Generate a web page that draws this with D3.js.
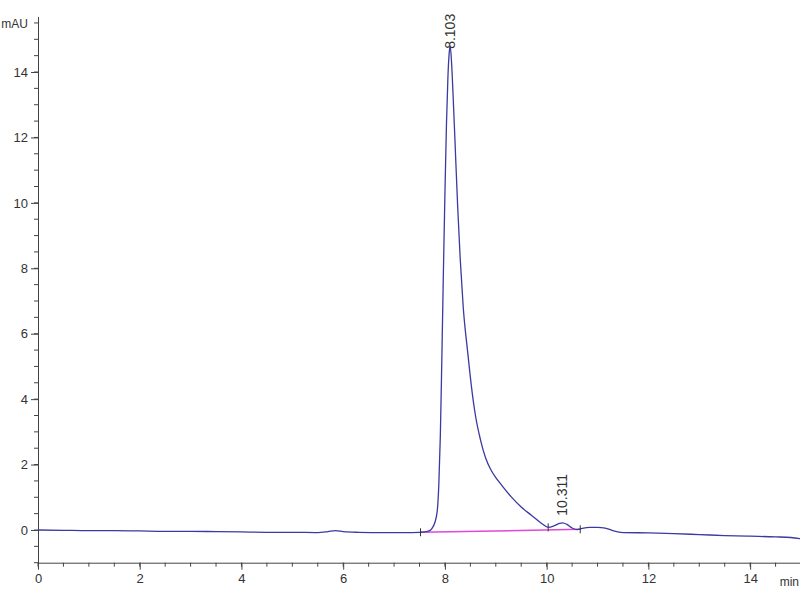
<!DOCTYPE html>
<html>
<head>
<meta charset="utf-8">
<script src="https://cdn.jsdelivr.net/npm/d3@7"></script>
<style>
  body { margin: 0; background: #fff; }
  #part { width: 800px; height: 600px; }
  text { font-family: "Liberation Sans", Arial, sans-serif; fill: #333; }
</style>
</head>
<body>
<div id="part"></div>
<script>

// chromatogram trace
var time = [0, 0.5, 1.0, 1.5, 2.0, 2.5, 3.0, 3.5, 4.0, 4.5, 5.0, 5.5, 5.7, 5.85, 6.0, 6.3, 6.8, 7.2, 7.5, 7.6,
  7.7, 7.75, 7.8, 7.85, 7.88, 7.91, 7.94, 7.97, 8.0, 8.03, 8.06, 8.085, 8.103, 8.13, 8.16, 8.2, 8.25, 8.3,
  8.36, 8.45, 8.52, 8.6, 8.7, 8.8, 8.9, 9.0, 9.1, 9.3, 9.5, 9.7, 9.9, 10.03, 10.15, 10.25, 10.311, 10.4, 10.5, 10.6,
  10.7, 10.85, 11.0, 11.15, 11.3, 11.45, 12.0, 12.5, 13.0, 13.5, 14.0, 14.5, 14.8, 15.0];
var signal = [0, -0.01, -0.02, -0.02, -0.03, -0.04, -0.04, -0.05, -0.06, -0.07, -0.07, -0.08, -0.05, -0.02, -0.05, -0.07, -0.08, -0.08, -0.07, -0.06,
  -0.02, 0.06, 0.22, 0.6, 1.4, 2.9, 5.3, 7.9, 10.3, 12.4, 13.9, 14.6, 14.8, 14.3, 13.3, 11.8, 9.9, 8.3,
  6.8, 5.4, 4.4, 3.5, 2.75, 2.2, 1.85, 1.6, 1.4, 1.02, 0.7, 0.45, 0.2, 0.08, 0.13, 0.2, 0.22, 0.17, 0.06, 0.01,
  0.05, 0.08, 0.08, 0.06, -0.02, -0.07, -0.09, -0.11, -0.14, -0.17, -0.19, -0.21, -0.23, -0.27];

// integration baseline and peak marks
var baseTime = [7.52, 10.66];
var baseValue = [-0.07, 0.02];
var markTime = [7.52, 10.03, 10.66];
var markValue = [-0.07, 0.08, 0.02];

var peakTime = [8.103, 10.311];
var peakValue = [14.8, 0.22];
var peakLabel = ["8.103", "10.311"];

var xTicks = [0, 2, 4, 6, 8, 10, 12, 14];
var yTicks = [0, 2, 4, 6, 8, 10, 12, 14];

var width = 800, height = 600;

var svg = d3.select("#part").append("svg")
    .attr("width", width)
    .attr("height", height);

var x = d3.scaleLinear().domain([0, 15]).range([38, 801]);
var y = d3.scaleLinear().domain([-1, 15.7]).range([562.7, 16.4]);

// minor ticks
svg.append("g").selectAll("line").data(d3.range(0, 15.01, 0.5))
  .enter().append("line")
    .attr("x1", function(d){ return x(d); })
    .attr("x2", function(d){ return x(d); })
    .attr("y1", y(-1)).attr("y2", y(-1) + 4)
    .style("stroke", "#444");
svg.append("g").selectAll("line").data(d3.range(-1, 15.51, 0.5))
  .enter().append("line")
    .attr("y1", function(d){ return y(d); })
    .attr("y2", function(d){ return y(d); })
    .attr("x1", x(0)).attr("x2", x(0) - 4)
    .style("stroke", "#444");

var xAxis = svg.append("g")
    .attr("transform", "translate(0," + y(-1) + ")")
    .call(d3.axisBottom(x).tickValues(xTicks).tickSize(7).tickPadding(4).tickSizeOuter(0));
var yAxis = svg.append("g")
    .attr("transform", "translate(" + x(0) + ",0)")
    .call(d3.axisLeft(y).tickValues(yTicks).tickSize(7).tickPadding(3).tickSizeOuter(0));

[xAxis, yAxis].forEach(function(a){
  a.selectAll("path, line").style("stroke", "#444");
  a.selectAll("text").style("font-size", "13px").style("fill", "#333");
});

svg.append("text").attr("x", 28).attr("y", 28)
  .attr("text-anchor", "end").style("font-size", "12px").text("mAU");
svg.append("text").attr("x", 799).attr("y", 586)
  .attr("text-anchor", "end").style("font-size", "12px").text("min");

// baseline (pink)
svg.append("line")
    .attr("x1", x(baseTime[0])).attr("y1", y(baseValue[0]))
    .attr("x2", x(baseTime[1])).attr("y2", y(baseValue[1]))
    .style("stroke", "#e048d8").style("stroke-width", 1.5);

// trace
var line = d3.line()
    .x(function(d){ return x(d[0]); })
    .y(function(d){ return y(d[1]); })
    .curve(d3.curveMonotoneX);

svg.append("path")
    .datum(d3.zip(time, signal))
    .attr("d", line)
    .style("fill", "none")
    .style("stroke", "#3a3aa0")
    .style("stroke-width", 1.3);

// peak boundary marks
svg.append("g").selectAll("line").data(d3.zip(markTime, markValue))
  .enter().append("line")
    .attr("x1", function(d){ return x(d[0]); })
    .attr("x2", function(d){ return x(d[0]); })
    .attr("y1", function(d){ return y(d[1]) - 4; })
    .attr("y2", function(d){ return y(d[1]) + 4; })
    .style("stroke", "#333");

// peak labels
svg.append("g").selectAll("text").data(d3.zip(peakTime, peakValue, peakLabel))
  .enter().append("text")
    .attr("transform", function(d){
      return "translate(" + (x(d[0]) + 5) + "," + (y(d[1]) - 7 + (d[1] > 5 ? 10 : 0)) + ") rotate(-90)";
    })
    .style("font-size", "14px")
    .style("fill", "#333")
    .text(function(d){ return d[2]; });

</script>
</body>
</html>
